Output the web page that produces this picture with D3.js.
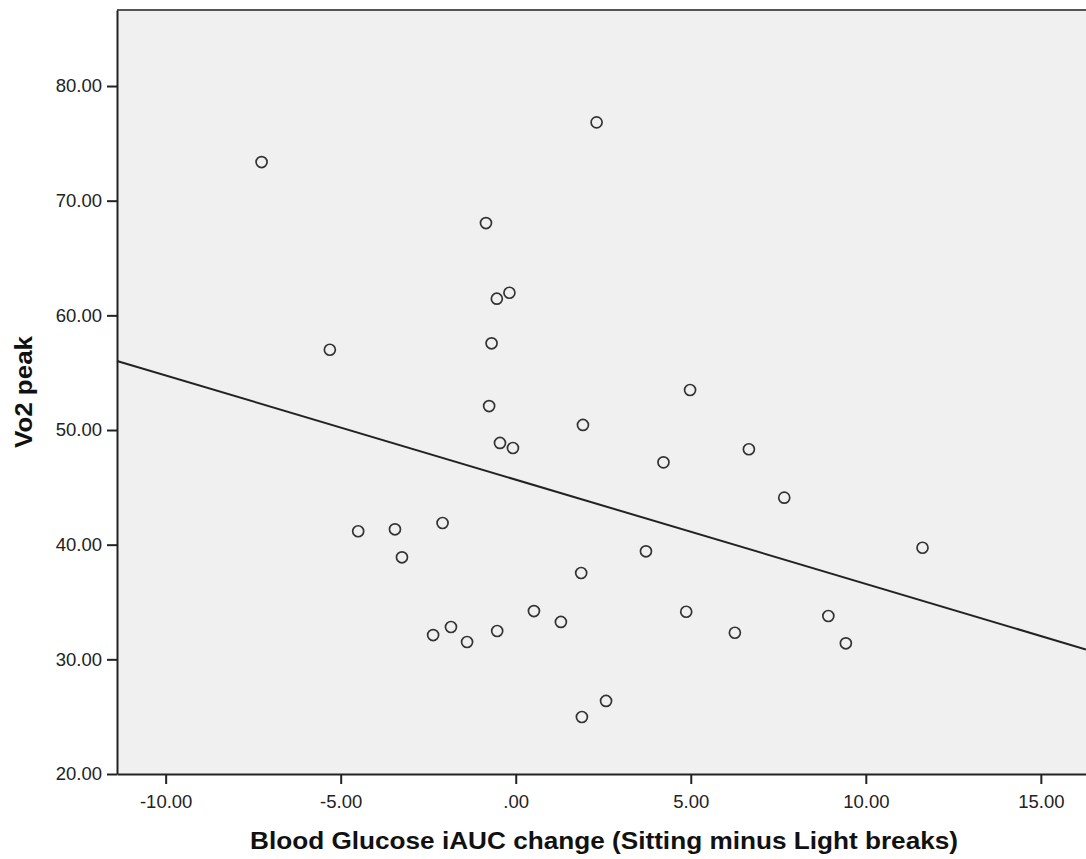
<!DOCTYPE html>
<html>
<head>
<meta charset="utf-8">
<script src="https://cdn.jsdelivr.net/npm/d3@7"></script>
<style>
  html, body { margin: 0; padding: 0; background: #fff; }
  svg { display: block; font-family: "Liberation Sans", Arial, sans-serif; }
</style>
</head>
<body>
<div id="chart"></div>
<script>
// glucose iAUC change (x) vs Vo2 peak (y)
const glucoseChange = [-7.26, 2.31, -0.85, -0.18, -0.54, -0.69, -5.31, -0.76, 4.98, 1.92,
  -0.45, -0.08, 6.66, 4.22, 7.67, -2.09, -4.50, -3.45, -3.25, 3.72,
  11.62, 1.87, 0.52, 4.87, 1.29, 8.93, -1.85, -2.36, -0.53, -1.39,
  6.26, 9.43, 2.58, 1.89];
const vo2Peak = [73.37, 76.83, 68.05, 61.97, 61.45, 57.56, 57.00, 52.09, 53.49, 50.44,
  48.87, 48.43, 48.32, 47.18, 44.10, 41.89, 41.17, 41.34, 38.90, 39.42,
  39.73, 37.53, 34.21, 34.15, 33.26, 33.78, 32.82, 32.12, 32.47, 31.51,
  32.32, 31.40, 26.37, 24.97];

const xTicks = [-10, -5, 0, 5, 10, 15];
const yTicks = [20, 30, 40, 50, 60, 70, 80];

// fit line (linear)
const fitIntercept = 45.67;
const fitSlope = -0.909;

const width = 1086, height = 859;
const margin = {top: 10, right: 0, bottom: 85, left: 117};

const svg = d3.select("#chart").append("svg")
    .attr("width", width)
    .attr("height", height);

const x = d3.scaleLinear()
    .domain([-11.39, 16.29])
    .range([margin.left, width - margin.right]);

const y = d3.scaleLinear()
    .domain([20, 86.63])
    .range([height - margin.bottom, margin.top]);

// SPSS style: ".00" for zero, plain hyphen for negatives
const fmt = (d) => {
    if (d === 0) return ".00";
    return d3.format(".2f")(d).replace("\u2212", "-");
};

// plot background
svg.append("rect")
    .attr("x", margin.left)
    .attr("y", margin.top)
    .attr("width", width - margin.left - margin.right)
    .attr("height", height - margin.top - margin.bottom)
    .attr("fill", "#f0f0f0");

// top frame line
svg.append("line")
    .attr("x1", margin.left).attr("x2", width)
    .attr("y1", margin.top).attr("y2", margin.top)
    .attr("stroke", "#555")
    .attr("stroke-width", 2);

// axes
const xAxis = svg.append("g")
    .attr("transform", `translate(0,${height - margin.bottom})`)
    .call(d3.axisBottom(x).tickValues(xTicks).tickFormat(fmt).tickSize(10).tickSizeOuter(0));

const yAxis = svg.append("g")
    .attr("transform", `translate(${margin.left},0)`)
    .call(d3.axisLeft(y).tickValues(yTicks).tickFormat(fmt).tickSize(10).tickSizeOuter(0));

[xAxis, yAxis].forEach(g => {
    g.select(".domain").attr("stroke", "#222").attr("stroke-width", 2);
    g.selectAll(".tick line").attr("stroke", "#222").attr("stroke-width", 2);
    g.selectAll(".tick text")
        .attr("fill", "#222")
        .style("font-size", "18.5px")
        .style("font-family", "Liberation Sans, Arial, sans-serif");
});
xAxis.selectAll(".tick text").attr("dy", "1.15em");
yAxis.selectAll(".tick text").attr("x", -15);

// fit line
const xd = x.domain();
svg.append("line")
    .attr("x1", x(xd[0])).attr("y1", y(fitIntercept + fitSlope * xd[0]))
    .attr("x2", x(xd[1])).attr("y2", y(fitIntercept + fitSlope * xd[1]))
    .attr("stroke", "#222")
    .attr("stroke-width", 2);

// points
svg.append("g")
    .selectAll("circle")
    .data(glucoseChange.map((d, i) => ({gx: d, vo2: vo2Peak[i]})))
    .join("circle")
    .attr("cx", d => x(d.gx))
    .attr("cy", d => y(d.vo2))
    .attr("r", 5.5)
    .attr("fill", "none")
    .attr("stroke", "#333")
    .attr("stroke-width", 1.7);

// axis titles
svg.append("text")
    .attr("x", 604)
    .attr("y", 849)
    .attr("text-anchor", "middle")
    .attr("font-weight", "bold")
    .attr("font-size", "23px")
    .attr("textLength", 708)
    .attr("lengthAdjust", "spacingAndGlyphs")
    .attr("fill", "#111")
    .text("Blood Glucose iAUC change (Sitting minus Light breaks)");

svg.append("text")
    .attr("transform", "translate(32,392) rotate(-90)")
    .attr("text-anchor", "middle")
    .attr("font-weight", "bold")
    .attr("font-size", "23px")
    .attr("textLength", 112)
    .attr("lengthAdjust", "spacingAndGlyphs")
    .attr("fill", "#111")
    .text("Vo2 peak");
</script>
</body>
</html>
